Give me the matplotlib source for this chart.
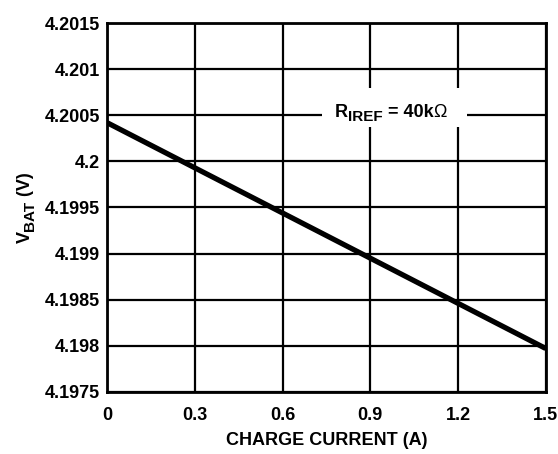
import matplotlib
matplotlib.use("Agg")
import matplotlib.pyplot as plt
from matplotlib.transforms import offset_copy
from matplotlib.patches import Rectangle

# datos
corriente = [0.0, 1.5]
vbat = [4.20042, 4.19797]
xticks = [0, 0.3, 0.6, 0.9, 1.2, 1.5]
xlabels = ["0", "0.3", "0.6", "0.9", "1.2", "1.5"]
yticks = [4.1975, 4.198, 4.1985, 4.199, 4.1995, 4.2, 4.2005, 4.201, 4.2015]
ylabels = ["4.1975", "4.198", "4.1985", "4.199", "4.1995", "4.2", "4.2005", "4.201", "4.2015"]

plt.rcParams["font.family"] = ["Liberation Sans", "DejaVu Sans"]

FS = 13
FS_SUB = 11

fig = plt.figure(figsize=(5.58, 4.54), dpi=100)
ax = fig.add_axes([0.192, 0.137, 0.786, 0.812])
renderer = fig.canvas.get_renderer()


def texto_partes(partes, transform, vertical=False, zorder=5):
    # coloca trozos de texto uno tras otro (subindices con tamano propio)
    objs = []
    pos = 0.0
    for txt, size, dy, peso in partes:
        if vertical:
            tr = offset_copy(transform, fig=fig, x=-dy, y=pos, units="dots")
            t = fig.text(0, 0, txt, transform=tr, fontsize=size, fontweight=peso,
                         rotation=90, ha="left", va="baseline",
                         rotation_mode="anchor", zorder=zorder)
            pos += t.get_window_extent(renderer).height
        else:
            tr = offset_copy(transform, fig=fig, x=pos, y=dy, units="dots")
            t = fig.text(0, 0, txt, transform=tr, fontsize=size, fontweight=peso,
                         ha="left", va="baseline", zorder=zorder)
            pos += t.get_window_extent(renderer).width
        objs.append((t, tr))
    return objs, pos


ax.plot(corriente, vbat, color="black", linewidth=3.8, solid_capstyle="butt", zorder=3)

ax.set_xlim(0, 1.5)
ax.set_ylim(4.1975, 4.2015)
ax.set_xticks(xticks)
ax.set_xticklabels(xlabels, fontsize=FS, fontweight="bold")
ax.set_yticks(yticks)
ax.set_yticklabels(ylabels, fontsize=FS, fontweight="bold")
ax.tick_params(axis="x", length=0, pad=11)
ax.tick_params(axis="y", length=0, pad=5)
ax.grid(True, color="black", linewidth=1.6)
for s in ax.spines.values():
    s.set_linewidth(2)

ax.set_xlabel("CHARGE CURRENT (A)", fontsize=FS, fontweight="bold", labelpad=6)

# caja blanca tras la etiqueta de la curva
ax.add_patch(Rectangle((0.735, 4.20037), 0.496, 0.00043, facecolor="white",
                       edgecolor="none", zorder=4))

# etiqueta R_IREF = 40kΩ, centrada en x=0.97
partes_r = [("R", FS, 0, "bold"), ("IREF", FS_SUB, -4, "bold"),
            (" = 40k", FS, 0, "bold"), ("Ω", FS, 0, "normal")]
objs, ancho = texto_partes(partes_r, fig.transFigure)
xp, yp = ax.transData.transform((0.97, 4.2005))
for t, tr in objs:
    t.set_transform(offset_copy(tr, fig=fig, x=xp - ancho / 2, y=yp - 2, units="dots"))

# etiqueta del eje y: V_BAT (V)
partes_v = [("V", FS, 0, "bold"), ("BAT", FS_SUB, -4, "bold"), (" (V)", FS, 0, "bold")]
objs, alto = texto_partes(partes_v, fig.transFigure, vertical=True)
xc = 30
yc = (ax.get_position().y0 + ax.get_position().y1) / 2 * fig.bbox.height
for t, tr in objs:
    t.set_transform(offset_copy(tr, fig=fig, x=xc, y=yc - alto / 2, units="dots"))

fig.savefig("out.png", dpi=100)
